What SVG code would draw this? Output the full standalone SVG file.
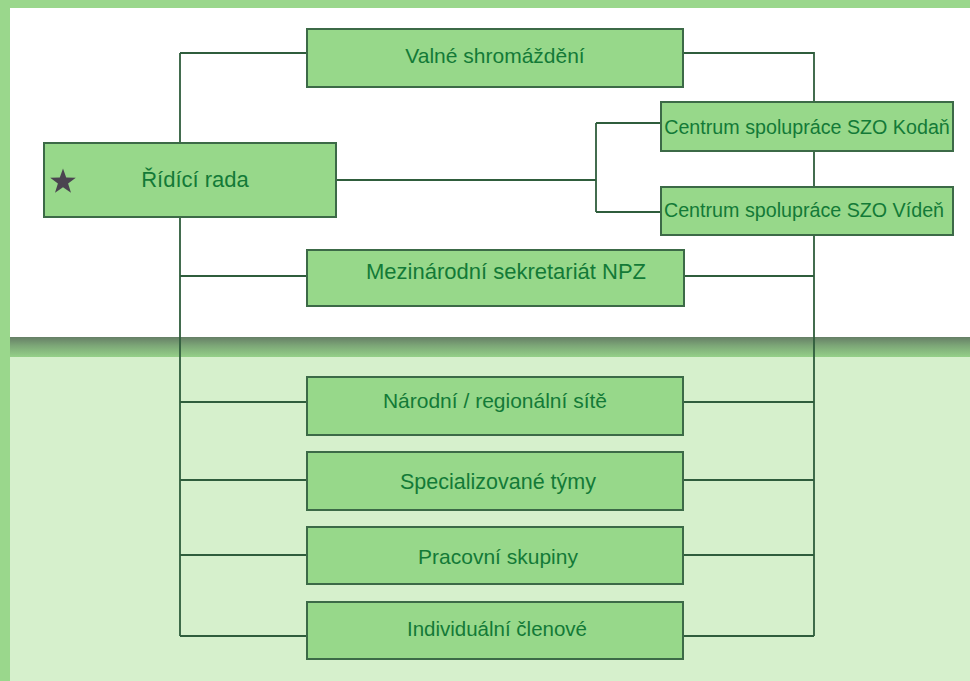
<svg xmlns="http://www.w3.org/2000/svg" width="970" height="681" viewBox="0 0 970 681">
<defs>
<linearGradient id="sh" x1="0" y1="0" x2="0" y2="1">
<stop offset="0" stop-color="#667f66"/>
<stop offset="0.45" stop-color="#7da878"/>
<stop offset="1" stop-color="#95d088"/>
</linearGradient>
<style>
.box{fill:#97d88a;stroke:#3c6a47;stroke-width:2}
.ln{fill:none;stroke:#2f5d3c;stroke-width:1.8}
.t{font-family:"Liberation Sans",Arial,sans-serif;fill:#137a37;text-anchor:middle}
</style>
</defs>
<rect x="0" y="0" width="970" height="681" fill="#9ad78c"/>
<rect x="10" y="337" width="960" height="20" fill="url(#sh)"/>
<rect x="10" y="357" width="960" height="324" fill="#d6f0cc"/>
<rect x="10" y="8" width="960" height="329" fill="#ffffff"/>
<g id="connectors">
<path class="ln" d="M180,53 V636 M180,53 H307 M683,53 H814 V636"/>
<path class="ln" d="M336,180 H596 M596,123 V212 M596,123 H661 M596,212 H661"/>
<path class="ln" d="M180,276 H307 M684,276 H814"/>
<path class="ln" d="M180,402 H307 M683,402 H814"/>
<path class="ln" d="M180,480 H307 M683,480 H814"/>
<path class="ln" d="M180,555 H307 M683,555 H814"/>
<path class="ln" d="M180,636 H307 M683,636 H814"/>
</g>
<g id="valne"><rect class="box" x="307" y="29" width="376" height="58"/><text class="t" x="495" y="63" font-size="21">Valné shromáždění</text></g>
<g id="ridici"><rect class="box" x="44" y="143" width="292" height="74"/>
<polygon points="63,168.5 66.2,177.6 75.8,177.8 68.1,183.5 71,192.7 63,187.2 55,192.7 57.9,183.5 50.2,177.8 59.8,177.6" fill="#4b4450"/>
<text class="t" x="195" y="187" font-size="22">Řídící rada</text></g>
<g id="kodan"><rect class="box" x="661" y="102" width="292" height="49"/><text class="t" x="807" y="134" font-size="19.7">Centrum spolupráce SZO Kodaň</text></g>
<g id="viden"><rect class="box" x="661" y="187" width="292" height="48"/><text class="t" x="804" y="217" font-size="19.7">Centrum spolupráce SZO Vídeň</text></g>
<g id="sekretariat"><rect class="box" x="307" y="250" width="377" height="56"/><text class="t" x="506" y="279" font-size="22">Mezinárodní sekretariát NPZ</text></g>
<g id="narodni"><rect class="box" x="307" y="377" width="376" height="58"/><text class="t" x="495" y="408" font-size="21">Národní / regionální sítě</text></g>
<g id="specializovane"><rect class="box" x="307" y="452" width="376" height="58"/><text class="t" x="498" y="489" font-size="21.5">Specializované týmy</text></g>
<g id="pracovni"><rect class="box" x="307" y="527" width="376" height="57"/><text class="t" x="498" y="564" font-size="21">Pracovní skupiny</text></g>
<g id="individualni"><rect class="box" x="307" y="602" width="376" height="57"/><text class="t" x="497" y="636" font-size="20.5">Individuální členové</text></g>
</svg>
